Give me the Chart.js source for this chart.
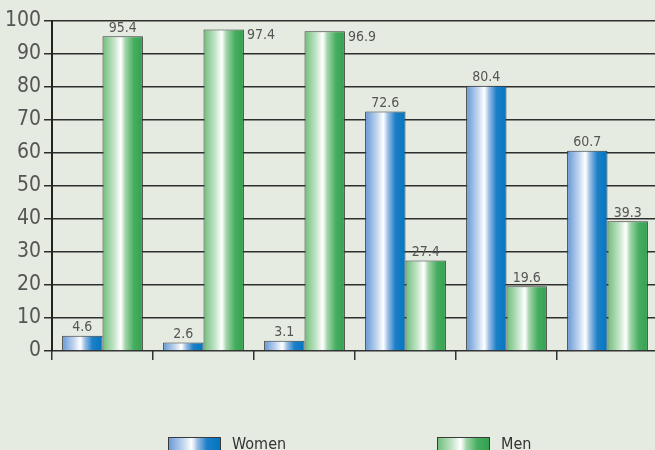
<!DOCTYPE html>
<html>
<head>
<meta charset="utf-8">
<script src="https://cdn.jsdelivr.net/npm/chart.js@4/dist/chart.umd.min.js"></script>
<style>
  html, body { margin: 0; padding: 0; overflow: hidden; background: #e5ebe0; }
  canvas { display: block; }
</style>
</head>
<body>
<canvas id="chart" width="658" height="450"></canvas>
<script>
// values
const categories = ['', '', '', '', '', ''];
const women = [4.6, 2.6, 3.1, 72.6, 80.4, 60.7];
const men = [95.4, 97.4, 96.9, 27.4, 19.6, 39.3];
const seriesNames = ['Women', 'Men'];
const yTicks = [0, 10, 20, 30, 40, 50, 60, 70, 80, 90, 100];

const FONT = "'DejaVu Sans Condensed', 'Liberation Sans Narrow', sans-serif";

const blueStops = [[0, '#6596d4'], [0.3, '#c4d8f0'], [0.45, '#ffffff'], [0.5, '#d8e6f5'], [0.56, '#9ec0e6'], [0.75, '#1c7fc8'], [1, '#0077c0']];
const greenStops = [[0, '#6cbd78'], [0.3, '#c8e6cc'], [0.45, '#ffffff'], [0.5, '#dcefdf'], [0.56, '#a4d6ab'], [0.78, '#45ad60'], [1, '#35a050']];

function makeGrad(ctx, x0, x1, stops) {
    const g = ctx.createLinearGradient(x0, 0, x1, 0);
    stops.forEach(s => g.addColorStop(s[0], s[1]));
    return g;
}

// each bar gets its own horizontal gradient, worked out from the x scale
function barFill(stops) {
    return function (c) {
        const chart = c.chart;
        const xs = chart.scales.x;
        const fallback = stops[5][1];
        if (!xs || c.dataIndex === undefined) return fallback;
        const center = xs.getPixelForValue(c.dataIndex);
        const barW = (xs.width / categories.length) * 0.8 / 2;
        if (!isFinite(center) || !isFinite(barW) || barW <= 0) return fallback;
        const x0 = c.datasetIndex === 0 ? center - barW : center;
        return makeGrad(chart.ctx, x0, x0 + barW, stops);
    };
}

const valueLabels = {
    id: 'valueLabels',
    afterDatasetsDraw(chart) {
        const ctx = chart.ctx;
        ctx.save();
        ctx.font = '14px ' + FONT;
        ctx.fillStyle = '#555';
        chart.data.datasets.forEach((ds, di) => {
            chart.getDatasetMeta(di).data.forEach((bar, i) => {
                const v = ds.data[i];
                if (v > 96) {
                    ctx.textAlign = 'left';
                    ctx.textBaseline = 'middle';
                    ctx.fillText(v.toFixed(1), bar.x + bar.width / 2 + 3, bar.y + 6);
                } else {
                    ctx.textAlign = 'center';
                    ctx.textBaseline = 'bottom';
                    ctx.fillText(v.toFixed(1), bar.x, bar.y - 1);
                }
            });
        });
        ctx.restore();
    }
};

const bottomLegend = {
    id: 'bottomLegend',
    afterDraw(chart) {
        const ctx = chart.ctx;
        const items = [[168, blueStops], [437, greenStops]];
        ctx.save();
        items.forEach((it, k) => {
            const x = it[0], y = 437;
            ctx.fillStyle = makeGrad(ctx, x, x + 52, it[1]);
            ctx.fillRect(x, y, 52, 16);
            ctx.strokeStyle = '#3a3a3a';
            ctx.lineWidth = 1;
            ctx.strokeRect(x + 0.5, y + 0.5, 52, 16);
            ctx.fillStyle = '#333';
            ctx.font = '16px ' + FONT;
            ctx.textAlign = 'left';
            ctx.textBaseline = 'middle';
            ctx.fillText(seriesNames[k], x + 64, y + 8);
        });
        ctx.restore();
    }
};

new Chart(document.getElementById('chart'), {
    type: 'bar',
    data: {
        labels: categories,
        datasets: [
            { label: seriesNames[0], data: women, backgroundColor: barFill(blueStops) },
            { label: seriesNames[1], data: men, backgroundColor: barFill(greenStops) }
        ]
    },
    options: {
        responsive: false,
        animation: false,
        layout: { padding: { top: 21, right: 0, left: 0, bottom: 0 } },
        datasets: {
            bar: {
                borderColor: '#3a3a3a',
                borderWidth: 1,
                categoryPercentage: 0.8,
                barPercentage: 1.0
            }
        },
        plugins: {
            legend: { display: false },
            tooltip: { enabled: false }
        },
        scales: {
            x: {
                grid: { drawOnChartArea: false, offset: true, tickLength: 9, color: '#333', lineWidth: 1.5 },
                border: { display: false },
                ticks: { display: false },
                afterFit(scale) { scale.height = 99; }
            },
            y: {
                min: 0,
                max: 100,
                afterBuildTicks(scale) { scale.ticks = yTicks.map(v => ({ value: v })); },
                grid: { color: '#2e2e2e', lineWidth: 1.5, tickLength: 8 },
                border: { color: '#222', width: 2 },
                ticks: {
                    color: '#555',
                    padding: 3,
                    font: { family: FONT, size: 21 }
                },
                afterFit(scale) { scale.width = 52; }
            }
        }
    },
    plugins: [valueLabels, bottomLegend]
});
</script>
</body>
</html>
